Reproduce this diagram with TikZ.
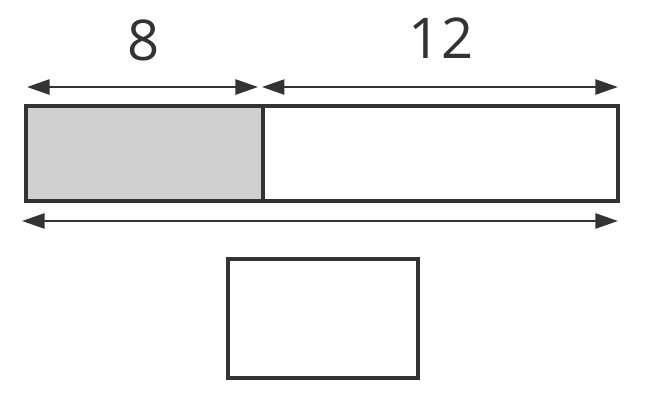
\documentclass[tikz,border=0pt]{standalone}
\usepackage{fontspec}
\setmainfont{Open Sans}
\usetikzlibrary{positioning, arrows.meta}
\definecolor{inkGray}{HTML}{333333}
\definecolor{shadeGray}{HTML}{D0D0D0}

\begin{document}
\begin{tikzpicture}[x=0.02cm, y=0.02cm, inkGray,
    barpart/.style={draw=inkGray, line width=1.8pt, inner sep=0pt, outer sep=0pt, minimum height=1.9cm},
    dimarrow/.style={line width=1.4pt, {Triangle[length=0.45cm, width=0.3cm]}-{Triangle[length=0.45cm, width=0.3cm]}},
    numlabel/.style={font=\fontsize{32}{36}\selectfont, inner sep=0pt}]
    \useasboundingbox (0,0) rectangle (651,400);
    % the bar: shaded part and the rest
    \node[barpart, fill=shadeGray, minimum width=4.74cm] (part8) at (144.5,246.5) {};
    \node[barpart, minimum width=7.1cm, right=0pt of part8] (part12) {};
    % empty box for the answer
    \node[barpart, minimum width=3.8cm, minimum height=2.38cm] (answer) at (323,81.5) {};
    % labels
    \node[numlabel] (lab8) at (144,360) {8};
    \node[numlabel] (lab12) at (441,362) {12};
    % dimension arrows
    \coordinate (a8l) at ([shift={(0.02cm,0.38cm)}]part8.north west);
    \coordinate (a8r) at ([shift={(-0.1cm,0.38cm)}]part8.north east);
    \coordinate (a12l) at ([shift={(-0.02cm,0.38cm)}]part12.north west);
    \coordinate (a12r) at ([shift={(0cm,0.38cm)}]part12.north east);
    \coordinate (allL) at ([shift={(-0.08cm,-0.4cm)}]part8.south west);
    \coordinate (allR) at ([shift={(0cm,-0.4cm)}]part12.south east);
    \draw[dimarrow] (a8l) -- (a8r);
    \draw[dimarrow] (a12l) -- (a12r);
    \draw[dimarrow] (allL) -- (allR);
\end{tikzpicture}
\end{document}
